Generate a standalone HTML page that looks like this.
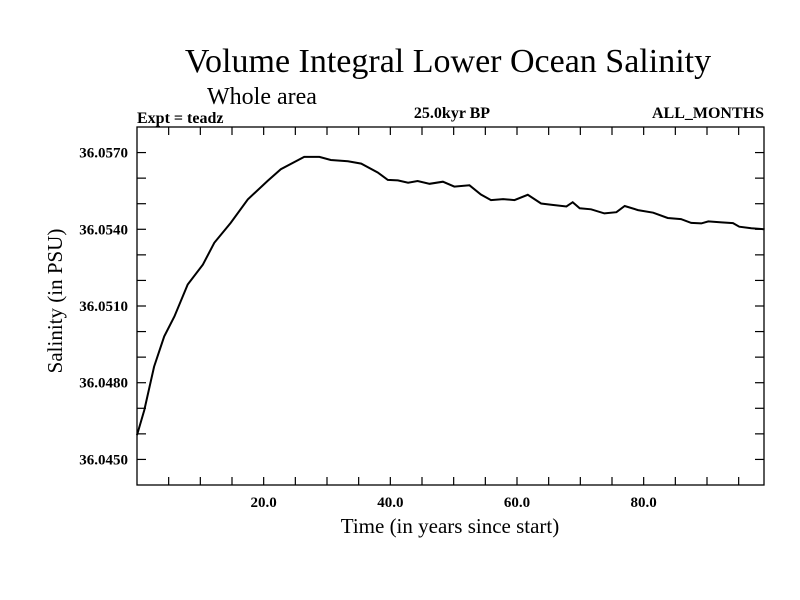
<!DOCTYPE html>
<html><head><meta charset="utf-8"><style>
body{margin:0;background:#fff}
svg{display:block;font-family:"Liberation Serif",serif}
</style></head><body>
<svg id="chart" width="800" height="600">
<rect width="800" height="600" fill="#fff"/>
<text x="448" y="72" font-size="34" text-anchor="middle">Volume Integral Lower Ocean Salinity</text>
<text x="207" y="104" font-size="24">Whole area</text>
<text x="137" y="123" font-size="16" font-weight="bold">Expt = teadz</text>
<text x="452" y="118" font-size="16" font-weight="bold" text-anchor="middle">25.0kyr BP</text>
<text x="764" y="118" font-size="16" font-weight="bold" text-anchor="end">ALL_MONTHS</text>
<g id="axes"></g>
<rect x="137" y="127" width="627" height="358" fill="none" stroke="#000" stroke-width="1.3"/>
<text x="450" y="533" font-size="21" text-anchor="middle">Time (in years since start)</text>
<text x="0" y="0" font-size="21" text-anchor="middle" transform="translate(62,301) rotate(-90)">Salinity (in PSU)</text>
<path id="line" fill="none" stroke="#000" stroke-width="2"/>
</svg>
<script>
const years=[0,1.15,2.7,4.3,5.9,8.0,10.4,12.2,14.8,17.5,20.6,22.7,26.4,28.8,30.6,33.3,35.4,38.0,39.6,41.2,42.8,44.3,46.2,48.3,50.1,52.5,54.3,55.9,57.8,59.6,61.7,63.8,65.4,67.8,68.8,69.9,71.7,73.8,75.7,77.0,79.1,81.5,83.8,85.9,87.5,89.1,90.2,92.3,94.1,95.1,97.0,99.1];
const salinity=[36.04595,36.04693,36.04863,36.04981,36.05059,36.05184,36.05262,36.05347,36.05425,36.05517,36.05589,36.05635,36.05683,36.05683,36.05671,36.05666,36.05657,36.05622,36.05593,36.05591,36.05582,36.05589,36.05578,36.05586,36.05567,36.05572,36.05536,36.05514,36.05518,36.05514,36.05535,36.05501,36.05496,36.05489,36.05506,36.05482,36.05478,36.05462,36.05467,36.05491,36.05475,36.05465,36.05444,36.05440,36.05425,36.05423,36.05431,36.05427,36.05424,36.05410,36.05404,36.05400];
const xTickLabels=["20.0","40.0","60.0","80.0"];
const yTickLabels=["36.0450","36.0480","36.0510","36.0540","36.0570"];
const xDomain=[0,99];
const yDomain=[36.044,36.058];
const L=137,R=764,T=127,B=485;
function xs(t){return L+(t-xDomain[0])/(xDomain[1]-xDomain[0])*(R-L);}
function ys(v){return B-(v-yDomain[0])/(yDomain[1]-yDomain[0])*(B-T);}
const NS="http://www.w3.org/2000/svg";
const ax=document.getElementById('axes');
function ln(x1,y1,x2,y2,name){const l=document.createElementNS(NS,'line');l.setAttribute('x1',x1);l.setAttribute('y1',y1);l.setAttribute('x2',x2);l.setAttribute('y2',y2);l.setAttribute('stroke','#000');l.setAttribute('stroke-width','1.2');


ax.appendChild(l);}
for(let t=5;t<xDomain[1];t+=5){const x=xs(t);ln(x,B,x,B-8,'x-tick');ln(x,T,x,T+8,'x-tick-top');}
for(let i=0;i<=14;i++){const v=36.044+i*0.001;if(v<=yDomain[0]||v>=yDomain[1])continue;const y=ys(v);ln(L,y,L+9,y,'y-tick');ln(R,y,R-9,y,'y-tick-right');}
xTickLabels.forEach(s=>{const t=document.createElementNS(NS,'text');t.setAttribute('x',xs(parseFloat(s)));t.setAttribute('y',507);t.setAttribute('font-size','15');t.setAttribute('font-weight','bold');t.setAttribute('text-anchor','middle');t.textContent=s;


ax.appendChild(t);});
yTickLabels.forEach(s=>{const t=document.createElementNS(NS,'text');t.setAttribute('x',128);t.setAttribute('y',ys(parseFloat(s))+5);t.setAttribute('font-size','15');t.setAttribute('font-weight','bold');t.setAttribute('text-anchor','end');t.textContent=s;


ax.appendChild(t);});
document.getElementById('line').setAttribute('d',years.map((t,i)=>(i?'L':'M')+xs(t).toFixed(1)+','+ys(salinity[i]).toFixed(1)).join(''));
</script>
</body></html>
